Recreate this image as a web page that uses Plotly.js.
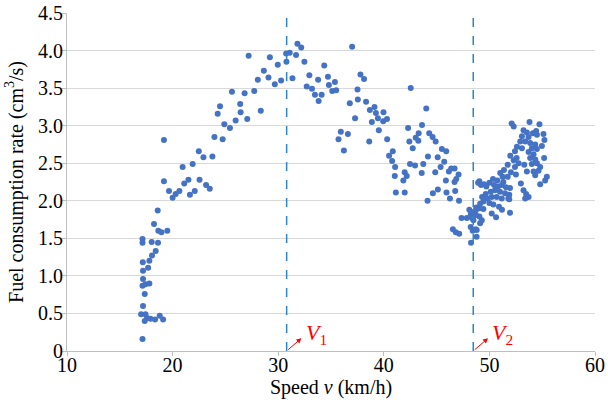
<!DOCTYPE html>
<html>
<head>
<meta charset="utf-8">
<script src="https://cdn.plot.ly/plotly-3.0.1.min.js"></script>
<style>html,body{margin:0;padding:0;background:#fff;}#chart{width:608px;height:405px;}</style>
</head>
<body>
<div id="chart"></div>
<script>
// Speed (km/h) and fuel consumption rate (cm^3/s)
const speed = [
19.18,20.95,21.9,19.18,19.66,20.0,20.29,20.64,21.1,21.5,21.64,22.1,22.55,18.59,18.24,18.65,18.94,19.5,17.15,17.15,
18.02,18.62,18.4,18.05,17.18,17.8,17.2,17.68,17.2,17.15,17.43,17.8,17.36,17.2,17.02,17.43,17.58,17.36,17.9,18.34,
18.78,19.1,17.15,
27.2,29.21,29.96,28.64,28.07,29.08,29.68,30.27,30.78,30.75,31.09,31.35,31.69,31.82,25.62,26.82,27.73,24.49,24.27,26.4,
26.44,28.35,25.97,27.07,24.9,25.43,23.96,24.74,22.48,22.92,23.77,23.17,23.52,
32.18,32.48,37.0,34.36,32.95,33.78,34.71,37.79,38.13,32.7,33.2,34.8,35.37,35.12,35.49,33.48,34.11,33.83,37.51,37.54,
36.78,38.32,39.12,38.68,39.25,39.97,39.44,40.3,37.28,38.87,39.94,39.53,35.93,35.71,36.6,36.22,38.62,40.32,
42.55,44.02,43.62,42.3,43.3,44.3,43.02,42.42,43.27,44.62,44.91,42.74,45.5,45.91,40.85,40.5,44.18,45.1,40.79,45.72,
42.48,42.96,43.74,41.07,45.38,46.38,46.7,41.98,42.17,43.59,44.87,46.16,47.08,46.86,41.04,41.85,46.7,45.88,48.93,41.14,
41.98,45.12,44.65,45.94,46.76,46.26,44.14,47.12,47.36,48.1,48.24,48.34,48.73,48.76,48.23,48.42,46.54,46.82,47.14,48.7,
48.79,48.26,
52.11,52.3,51.98,52.3,52.42,52.58,52.42,52.77,51.73,52.04,51.38,51.03,51.25,51.73,52.51,51.32,50.75,50.34,50.0,49.71,
49.05,49.21,49.5,50.44,50.82,51.19,51.57,51.95,50.53,51.0,51.48,51.88,50.12,49.65,49.31,49.8,50.22,50.69,51.17,51.79,
49.43,50.0,49.12,50.37,50.91,51.88,51.95,50.22,50.63,51.19,49.05,48.74,49.43,48.65,49.05,48.3,47.86,48.49,48.8,49.12,
49.28,
53.8,54.74,54.43,53.23,53.55,54.12,53.08,53.71,54.5,55.12,55.21,52.92,53.39,53.86,54.34,52.61,53.08,54.02,54.5,54.97,
53.71,54.18,53.86,54.34,55.18,53.3,54.02,54.5,54.81,53.55,54.18,54.65,54.34,55.44,55.28,54.81,52.98,53.23,53.48,53.71,
53.39
];
const fuelRate = [
2.81,2.45,2.49,2.26,2.13,2.04,2.09,2.13,2.23,2.28,2.08,2.13,2.28,1.87,1.69,1.60,1.58,1.60,1.49,1.44,
1.45,1.44,1.33,1.27,1.18,1.20,1.07,1.11,0.96,0.87,0.89,0.90,0.76,0.60,0.49,0.49,0.44,0.40,0.43,0.42,
0.47,0.42,0.16,
3.93,3.91,3.81,3.73,3.61,3.64,3.55,3.60,3.85,3.96,3.97,3.63,3.94,4.09,3.45,3.43,3.46,3.26,3.16,3.29,
3.18,3.20,3.07,3.09,3.02,2.97,2.85,2.82,2.66,2.58,2.59,2.21,2.16,
4.04,3.85,4.05,3.80,3.67,3.61,3.65,3.68,3.62,3.52,3.49,3.54,3.58,3.46,3.47,3.41,3.41,3.33,3.48,3.35,
3.30,3.32,3.25,3.21,3.17,3.18,3.10,3.09,3.10,3.05,3.06,2.94,2.92,2.82,2.89,2.67,2.79,2.82,
3.50,3.23,3.01,2.97,2.90,2.90,2.84,2.79,2.80,2.85,2.79,2.70,2.69,2.66,2.66,2.60,2.59,2.58,2.53,2.52,
2.49,2.47,2.49,2.45,2.45,2.43,2.43,2.38,2.33,2.37,2.38,2.39,2.35,2.29,2.33,2.27,2.25,2.27,2.24,2.11,
2.11,2.15,2.10,2.11,2.13,2.03,2.00,2.00,1.77,1.88,1.82,1.77,1.81,1.91,1.65,1.60,1.62,1.58,1.56,1.62,
1.52,1.44,
3.03,2.99,2.60,2.54,2.66,2.57,2.45,2.50,2.48,2.38,2.41,2.37,2.32,2.32,2.35,2.25,2.27,2.29,2.24,2.19,
2.26,2.21,2.22,2.21,2.19,2.21,2.18,2.17,2.14,2.12,2.10,2.08,2.12,2.09,2.05,2.03,2.05,2.05,2.03,2.03,
1.99,1.97,1.96,1.95,1.92,2.02,1.84,1.83,1.78,1.88,1.90,1.88,1.89,1.82,1.79,1.85,1.77,1.74,1.61,1.70,
1.74,
3.05,3.02,2.93,2.94,2.91,2.90,2.86,2.85,2.88,2.89,2.81,2.79,2.79,2.77,2.75,2.72,2.70,2.70,2.69,2.73,
2.65,2.62,2.57,2.55,2.57,2.48,2.49,2.50,2.45,2.39,2.39,2.40,2.34,2.32,2.27,2.22,2.23,2.14,2.09,2.05,
2.03
];
// Critical speeds marked with dashed lines
const criticalSpeeds = [30.8, 48.47];
const criticalLabels = ['1', '2'];
// Axis ticks
const xTickVals = [10, 20, 30, 40, 50, 60];
const yTickVals = [0, 0.5, 1.0, 1.5, 2.0, 2.5, 3.0, 3.5, 4.0, 4.5];
const yTickText = ['0', '0.5', '1.0', '1.5', '2.0', '2.5', '3.0', '3.5', '4.0', '4.5'];

const serif = 'Liberation Serif, Times New Roman, serif';

const trace = {
  type: 'scatter', mode: 'markers',
  x: speed, y: fuelRate,
  marker: {color: '#4472C4', size: 6},
  hoverinfo: 'x+y', showlegend: false, cliponaxis: false
};

const shapes = criticalSpeeds.map(v => ({
  type: 'line', xref: 'x', yref: 'y', x0: v, x1: v, y0: 0, y1: 4.5,
  line: {color: '#2E86C9', width: 1.5, dash: 'dash'}
}));

const annotations = [];
criticalSpeeds.forEach((v, i) => {
  annotations.push({
    xref: 'x', yref: 'y', axref: 'x', ayref: 'y',
    x: v + 1.4, y: 0.17, ax: v, ay: 0,
    text: '', showarrow: true, arrowhead: 2, arrowsize: 1, arrowwidth: 1,
    arrowcolor: '#FF0000', standoff: 0, startstandoff: 0
  });
  annotations.push({
    xref: 'x', yref: 'y', x: v + 2.8, y: 0.22,
    text: '<i>V</i><sub>' + criticalLabels[i] + '</sub>', showarrow: false,
    font: {family: serif, size: 22, color: '#FF0000'}
  });
});

const layout = {
  width: 608, height: 405,
  margin: {l: 67, r: 13, t: 13, b: 54},
  paper_bgcolor: '#ffffff', plot_bgcolor: '#ffffff',
  font: {family: serif, size: 20, color: '#000000'},
  xaxis: {
    range: [10, 60], tickvals: xTickVals, showgrid: false, zeroline: false,
    showline: true, linecolor: '#BFBFBF', linewidth: 1,
    ticks: 'outside', ticklen: 4, tickcolor: '#BFBFBF', ticklabelstandoff: -8,
    tickfont: {family: serif, size: 20, color: '#000'},
    title: {text: 'Speed <i>v</i> (km/h)', font: {family: serif, size: 20, color: '#000'}, standoff: 2}
  },
  yaxis: {
    range: [0, 4.5], tickvals: yTickVals, ticktext: yTickText,
    showgrid: true, gridcolor: '#D9D9D9', gridwidth: 1, zeroline: false,
    showline: true, linecolor: '#BFBFBF', linewidth: 1,
    ticks: 'outside', ticklen: 4, tickcolor: '#BFBFBF', ticklabelstandoff: -5,
    tickfont: {family: serif, size: 20, color: '#000'},
    title: {text: 'Fuel consumption rate (cm<sup>3</sup>/s)', font: {family: serif, size: 20, color: '#000'}, standoff: 9}
  },
  shapes: shapes,
  annotations: annotations
};

Plotly.newPlot('chart', [trace], layout, {displayModeBar: false, staticPlot: true});
</script>
</body>
</html>
